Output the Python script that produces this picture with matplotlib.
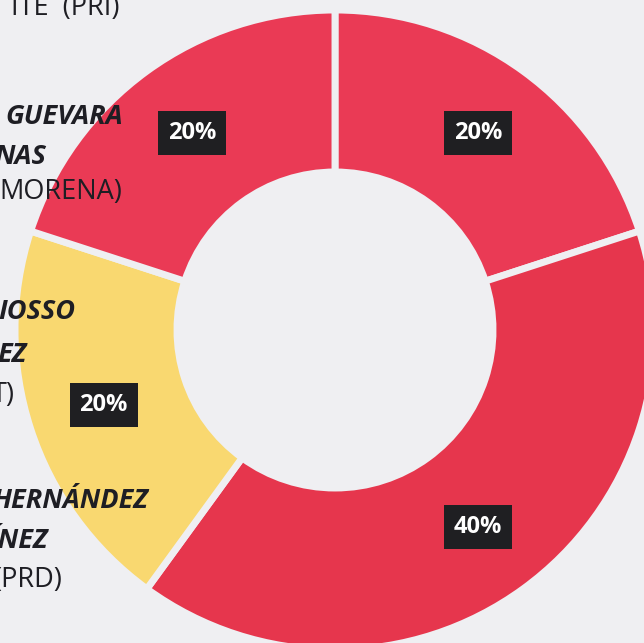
import matplotlib.pyplot as plt

# vote share per candidate, clockwise from the top
shares = [20, 40, 20, 20]
colors = ['#ea3a55', '#e6364d', '#f9d870', '#ea3a55']

# candidate labels on the left (cut off by the photo edge)
name_lines = ['ITE  (PRI)', 'GUEVARA', 'NAS', 'MORENA)',
              'IOSSO', 'EZ', 'T)', 'HERNÁNDEZ', 'ÍNEZ', '(PRD)']
name_bold = [False, True, True, False, True, True, False, True, True, False]
# right edge x and centre y, in pixels from top-left
name_pos = [(120, 8), (123, 117), (46, 157), (122, 192),
            (75, 312), (27, 355), (15, 395),
            (148, 501), (48, 541), (63, 580)]

W, H = 644, 643
bg = '#efeff2'
fig = plt.figure(figsize=(W / 100, H / 100), dpi=100)
fig.patch.set_facecolor(bg)
ax = fig.add_axes([0, 0, 1, 1])
ax.set_facecolor(bg)

wedges, texts, autotexts = ax.pie(
    shares, colors=colors, startangle=90, counterclock=False,
    radius=320, center=(335, H - 330),
    wedgeprops=dict(width=162, edgecolor=bg, linewidth=5),
    autopct=lambda p: f'{p:.0f}%', pctdistance=0.76,
    textprops=dict(color='white', fontsize=17, fontweight='bold',
                   family=['Open Sans', 'DejaVu Sans']))

for t in autotexts:
    t.set_bbox(dict(boxstyle='square,pad=0.42', facecolor='#1f1f22',
                    edgecolor='none'))

for txt, bold, (x, y) in zip(name_lines, name_bold, name_pos):
    ax.text(x, H - y, txt, ha='right', va='center', fontsize=19.5,
            fontweight='bold' if bold else 'normal',
            fontstyle='italic' if bold else 'normal',
            color='#1e1e24', family=['Open Sans', 'DejaVu Sans'])

ax.set_xlim(0, W)
ax.set_ylim(0, H)
ax.set_aspect('auto')
ax.axis('off')

fig.savefig('out.png', dpi=100, facecolor=fig.get_facecolor())
